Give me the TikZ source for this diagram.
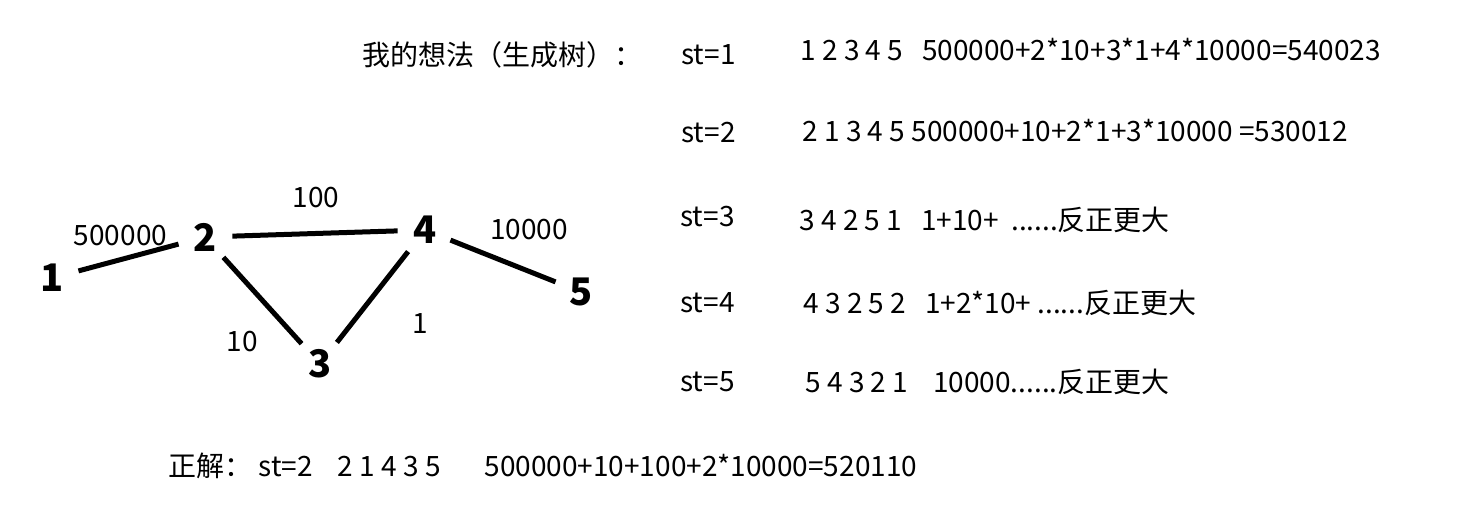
\documentclass[tikz,border=0pt]{standalone}
\usepackage{fontspec}
\setmainfont{Noto Sans CJK SC}
\begin{document}
\begin{tikzpicture}[x=0.5pt, y=-0.5pt,
    txt/.style={anchor=west, inner sep=0pt, font=\fontsize{14}{16}\selectfont},
    vtx/.style={circle, minimum size=27pt, inner sep=0pt, font=\fontsize{19}{22}\selectfont\bfseries},
    wt/.style={inner sep=0pt, font=\fontsize{14}{16}\selectfont},
    edge/.style={line width=2.5pt}]
  \useasboundingbox (0,0) rectangle (1463,516);

  % graph
  \node[vtx] (v1) at (52,278) {1};
  \node[vtx] (v2) at (205,237) {2};
  \node[vtx] (v3) at (320,364) {3};
  \node[vtx] (v4) at (425,230) {4};
  \node[vtx] (v5) at (581,292) {5};

  \draw[edge] (v1) -- node[wt, xshift=-4pt, yshift=11pt] {500000} (v2);
  \draw[edge] (v2) -- node[wt, xshift=0.5pt, yshift=18pt] {100} (v4);
  \draw[edge] (v4) -- node[wt, xshift=13pt, yshift=15.5pt] {10000} (v5);
  \draw[edge] (v2) -- node[wt, xshift=-10pt, yshift=-20.5pt] {10} (v3);
  \draw[edge] (v3) -- node[wt, xshift=24pt, yshift=-13.5pt] {1} (v4);

  % my idea
  \node[txt] (idea) at (362,55) {我的想法（生成树）：};
  \node[txt] (st1) at (681,55) {st=1};
  \node[txt] (r1) at (800,50) {1\ 2\ 3\ 4\ 5\ \ \ 500000+2*10+3*1+4*10000=540023};
  \node[txt] (st2) at (681,133) {st=2};
  \node[txt] (r2) at (802,131) {2\ 1\ 3\ 4\ 5\ 500000+10+2*1+3*10000 =530012};
  \node[txt] (st3) at (680,217) {st=3};
  \node[txt] (r3) at (799,220) {3\ 4\ 2\ 5\ 1\ \ \ 1+10+\ \ ......反正更大};
  \node[txt] (st4) at (680,303) {st=4};
  \node[txt] (r4) at (803,303) {4\ 3\ 2\ 5\ 2\ \ \ 1+2*10+\ ......反正更大};
  \node[txt] (st5) at (680,382) {st=5};
  \node[txt] (r5) at (805,382) {5\ 4\ 3\ 2\ 1\ \ \ \ 10000......反正更大};

  % answer
  \node[txt] (ans) at (168,466) {正解：\ st=2\ \ \ \ 2\ 1\ 4\ 3\ 5\ \ \ \ \ \ \ 500000+10+100+2*10000=520110};
\end{tikzpicture}
\end{document}
